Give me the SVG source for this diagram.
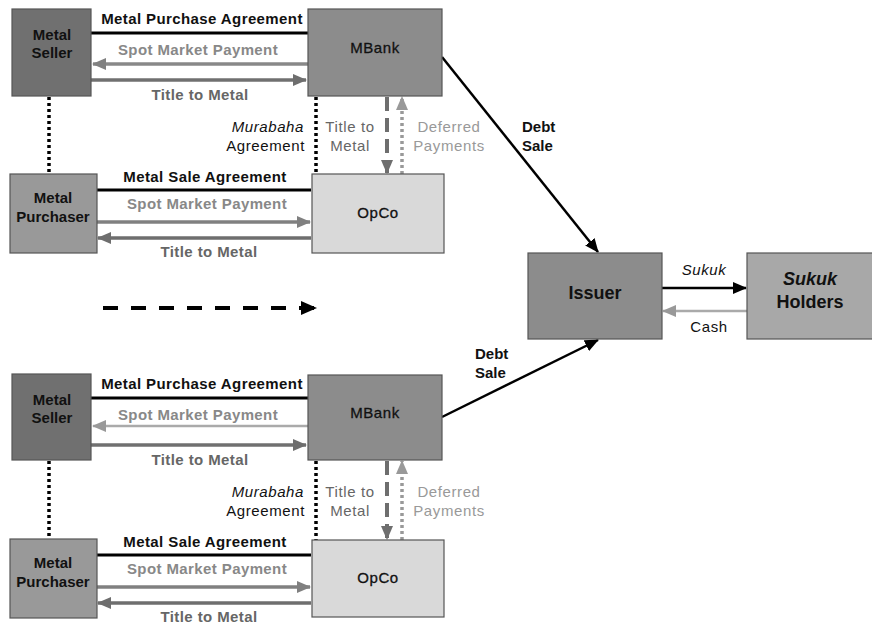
<svg xmlns="http://www.w3.org/2000/svg" width="872" height="625" viewBox="0 0 872 625">
<defs>
<style>
text{font-family:"Liberation Sans",Arial,sans-serif;font-weight:bold;font-size:15px;}
.n{font-weight:normal;letter-spacing:0.6px;}
.big{font-size:18px;}
.sp{letter-spacing:0.4px;}
.box{stroke:#555;stroke-width:1.2;}
.dark{fill:#707070;}
.mid{fill:#8c8c8c;}
.pur{fill:#999999;}
.light{fill:#d9d9d9;}
.hold{fill:#a8a8a8;}
.nt{fill:#111;text-anchor:middle;}
.lbl{text-anchor:middle;}
.end{text-anchor:end;}
.blk{fill:#111;}
.g1{fill:#888;}
.g2{fill:#666;}
.g3{fill:#999;}
.it{font-style:italic;}
.nb{stroke:#111;stroke-width:0.3;}
</style>
<marker id="ah-dg" markerUnits="userSpaceOnUse" markerWidth="14" markerHeight="12" refX="13" refY="6" orient="auto"><path d="M0,0 L14,6 L0,12 z" fill="#6e6e6e"/></marker>
<marker id="ah-lg" markerUnits="userSpaceOnUse" markerWidth="14" markerHeight="12" refX="13" refY="6" orient="auto"><path d="M0,0 L14,6 L0,12 z" fill="#999"/></marker>
<marker id="ah-g" markerUnits="userSpaceOnUse" markerWidth="14" markerHeight="12" refX="13" refY="6" orient="auto"><path d="M0,0 L14,6 L0,12 z" fill="#808080"/></marker>
<marker id="ah-k" markerUnits="userSpaceOnUse" markerWidth="14" markerHeight="12" refX="13" refY="6" orient="auto"><path d="M0,0 L14,6 L0,12 z" fill="#000"/></marker>
<marker id="ah-kb" markerUnits="userSpaceOnUse" markerWidth="16" markerHeight="14" refX="15" refY="7" orient="auto"><path d="M0,0 L16,7 L0,14 z" fill="#000"/></marker>
</defs>

<g id="connectors" fill="none">
  <line x1="91" y1="33" x2="308" y2="33" stroke="#000" stroke-width="3"/>
  <line x1="308" y1="64" x2="93" y2="64" stroke="#888" stroke-width="3.5" marker-end="url(#ah-g)"/>
  <line x1="91" y1="80" x2="306" y2="80" stroke="#707070" stroke-width="3.5" marker-end="url(#ah-dg)"/>
  <line x1="49" y1="97" x2="49" y2="174" stroke="#000" stroke-width="3.5" stroke-dasharray="3,3"/>
  <line x1="316" y1="97" x2="316" y2="174" stroke="#000" stroke-width="3.5" stroke-dasharray="3,3"/>
  <line x1="387" y1="97" x2="387" y2="173" stroke="#6e6e6e" stroke-width="4" stroke-dasharray="14,7" marker-end="url(#ah-dg)"/>
  <line x1="402" y1="174" x2="402" y2="97" stroke="#999" stroke-width="3.5" stroke-dasharray="3,3" marker-end="url(#ah-lg)"/>
  <line x1="97" y1="190" x2="311" y2="190" stroke="#000" stroke-width="3"/>
  <line x1="97" y1="222" x2="310" y2="222" stroke="#808080" stroke-width="3.5" marker-end="url(#ah-g)"/>
  <line x1="311" y1="238" x2="98" y2="238" stroke="#6e6e6e" stroke-width="3.5" marker-end="url(#ah-dg)"/>
  <line x1="442" y1="57" x2="598" y2="252" stroke="#000" stroke-width="2.5" marker-end="url(#ah-k)"/>
  <line x1="103" y1="308" x2="316" y2="308" stroke="#000" stroke-width="4" stroke-dasharray="15,13" marker-end="url(#ah-kb)"/>
  <line x1="662" y1="288" x2="746" y2="288" stroke="#000" stroke-width="2.5" marker-end="url(#ah-k)"/>
  <line x1="747" y1="311" x2="663" y2="311" stroke="#aaa" stroke-width="2.5" marker-end="url(#ah-lg)"/>
  <line x1="91" y1="398" x2="308" y2="398" stroke="#000" stroke-width="3"/>
  <line x1="308" y1="426" x2="93" y2="426" stroke="#aaa" stroke-width="2.5" marker-end="url(#ah-lg)"/>
  <line x1="91" y1="445" x2="306" y2="445" stroke="#707070" stroke-width="3.5" marker-end="url(#ah-dg)"/>
  <line x1="49" y1="461" x2="49" y2="539" stroke="#000" stroke-width="3.5" stroke-dasharray="3,3"/>
  <line x1="316" y1="461" x2="316" y2="540" stroke="#000" stroke-width="3.5" stroke-dasharray="3,3"/>
  <line x1="387" y1="461" x2="387" y2="539" stroke="#6e6e6e" stroke-width="4" stroke-dasharray="14,7" marker-end="url(#ah-dg)"/>
  <line x1="402" y1="540" x2="402" y2="461" stroke="#999" stroke-width="3.5" stroke-dasharray="3,3" marker-end="url(#ah-lg)"/>
  <line x1="97" y1="555" x2="311" y2="555" stroke="#000" stroke-width="3"/>
  <line x1="97" y1="587" x2="310" y2="587" stroke="#808080" stroke-width="3.5" marker-end="url(#ah-g)"/>
  <line x1="311" y1="603" x2="98" y2="603" stroke="#6e6e6e" stroke-width="3.5" marker-end="url(#ah-dg)"/>
  <line x1="442" y1="417" x2="598" y2="340" stroke="#000" stroke-width="2.5" marker-end="url(#ah-k)"/>
</g>

<g id="labels">
  <text class="lbl blk sp" x="202" y="24">Metal Purchase Agreement</text>
  <text class="lbl g1 sp" x="198" y="55">Spot Market Payment</text>
  <text class="lbl g2 sp" x="200" y="100">Title to Metal</text>
  <text class="blk it n end" x="304" y="132">Murabaha</text>
  <text class="blk n end" x="305" y="151">Agreement</text>
  <text class="lbl g2 n" x="350" y="132">Title to</text>
  <text class="lbl g2 n" x="350" y="151">Metal</text>
  <text class="lbl g3 n" x="449" y="132">Deferred</text>
  <text class="lbl g3 n" x="449" y="151">Payments</text>
  <text class="lbl blk sp" x="205" y="182">Metal Sale Agreement</text>
  <text class="lbl g1 sp" x="207" y="209">Spot Market Payment</text>
  <text class="lbl g2 sp" x="209" y="257">Title to Metal</text>
  <text class="blk" x="522" y="132">Debt</text>
  <text class="blk" x="522" y="151">Sale</text>
  <text class="lbl blk it n" x="704" y="275">Sukuk</text>
  <text class="lbl blk n" x="709" y="332">Cash</text>
  <text class="blk" x="475" y="359">Debt</text>
  <text class="blk" x="475" y="378">Sale</text>
  <text class="lbl blk sp" x="202" y="389">Metal Purchase Agreement</text>
  <text class="lbl g1 sp" x="198" y="420">Spot Market Payment</text>
  <text class="lbl g2 sp" x="200" y="465">Title to Metal</text>
  <text class="blk it n end" x="304" y="497">Murabaha</text>
  <text class="blk n end" x="305" y="516">Agreement</text>
  <text class="lbl g2 n" x="350" y="497">Title to</text>
  <text class="lbl g2 n" x="350" y="516">Metal</text>
  <text class="lbl g3 n" x="449" y="497">Deferred</text>
  <text class="lbl g3 n" x="449" y="516">Payments</text>
  <text class="lbl blk sp" x="205" y="547">Metal Sale Agreement</text>
  <text class="lbl g1 sp" x="207" y="574">Spot Market Payment</text>
  <text class="lbl g2 sp" x="209" y="622">Title to Metal</text>
</g>

<g id="metal-seller-1"><rect class="box dark" x="12" y="9" width="79" height="87"/><text class="nt" x="52" y="40">Metal</text><text class="nt" x="52" y="58">Seller</text></g>
<g id="mbank-1"><rect class="box mid" x="308" y="9" width="134" height="87"/><text class="nt n nb" x="375" y="53">MBank</text></g>
<g id="metal-purchaser-1"><rect class="box pur" x="10" y="174" width="87" height="79"/><text class="nt" x="53" y="203">Metal</text><text class="nt" x="53" y="222">Purchaser</text></g>
<g id="opco-1"><rect class="box light" x="312" y="174" width="132" height="79"/><text class="nt n nb" x="378" y="218">OpCo</text></g>
<g id="issuer"><rect class="box mid" x="528" y="253" width="134" height="86"/><text class="nt big" x="595" y="299">Issuer</text></g>
<g id="sukuk-holders"><rect class="box hold" x="747" y="253" width="126" height="86"/><text class="nt it big" x="810" y="285">Sukuk</text><text class="nt big" x="810" y="308">Holders</text></g>
<g id="metal-seller-2"><rect class="box dark" x="12" y="374" width="79" height="86"/><text class="nt" x="52" y="405">Metal</text><text class="nt" x="52" y="423">Seller</text></g>
<g id="mbank-2"><rect class="box mid" x="308" y="375" width="134" height="85"/><text class="nt n nb" x="375" y="418">MBank</text></g>
<g id="metal-purchaser-2"><rect class="box pur" x="10" y="539" width="87" height="79"/><text class="nt" x="53" y="568">Metal</text><text class="nt" x="53" y="587">Purchaser</text></g>
<g id="opco-2"><rect class="box light" x="312" y="540" width="132" height="77"/><text class="nt n nb" x="378" y="583">OpCo</text></g>
</svg>
